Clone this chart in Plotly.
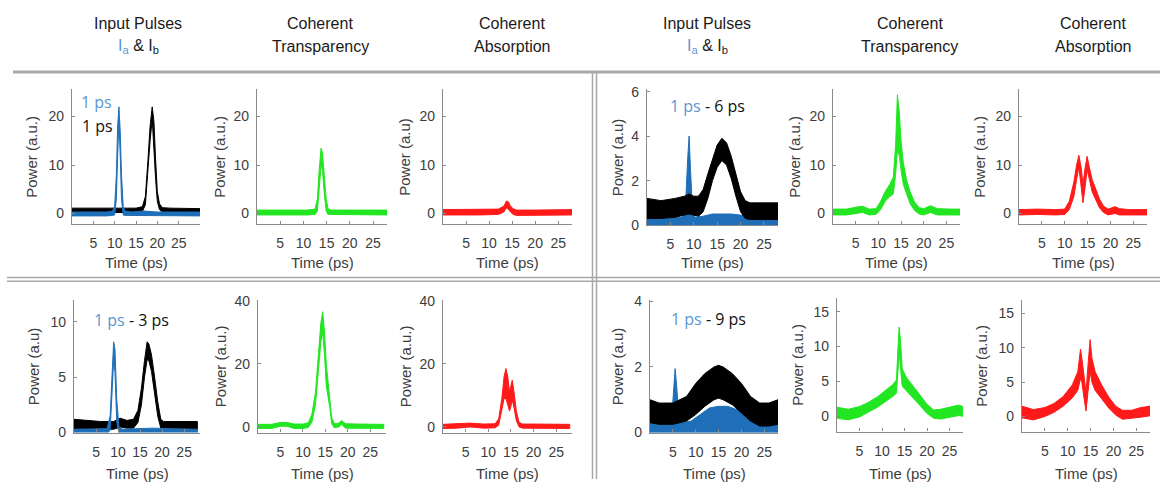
import plotly.graph_objects as go

W, H = 1166, 490

BLUE = "#1f6fb8"
BLACK = "#000000"
GREEN = "#22e622"
RED = "#ff1a1a"
LEG_BLUE = "#5b96d2"

# ---------------- data (time in ps, power in a.u.; lower / upper envelope of noisy traces) ----
# Row 1 - input pulses 1 ps & 1 ps
t_r1_in_blue = [0, 3, 6, 8, 9.5, 10.0, 10.4, 10.7, 11.0, 11.3, 11.6, 12.0, 12.4, 14, 17, 20, 24, 28, 30]
lo_r1_in_blue = [-0.5, -0.5, -0.5, -0.5, -0.4, -0.3, 3, 12, 19, 12, 3, -0.3, -0.4, -0.5, -0.4, -0.5, -0.5, -0.5, -0.5]
hi_r1_in_blue = [0.3, 0.3, 0.3, 0.3, 0.5, 1.5, 8, 18, 22, 17, 8, 1.5, 0.5, 0.3, 0.5, 0.3, 0.3, 0.3, 0.3]
t_r1_in_black = [0, 3, 6, 9, 12, 15, 16.5, 17.2, 17.8, 18.3, 18.8, 19.2, 19.6, 20.0, 20.5, 21.2, 23, 26, 28, 30]
lo_r1_in_black = [0.2, 0.2, 0.2, 0.2, 0.2, 0.2, 0.4, 1.8, 8, 15, 19.5, 15, 7, 2.5, 0.8, 0.3, 0.2, 0.2, 0.2, 0.2]
hi_r1_in_black = [1.1, 1.1, 1.0, 1.1, 1.1, 1.1, 1.4, 3.5, 11, 18, 22, 19, 11, 4.5, 2, 1.2, 1.1, 1.1, 1.1, 1.0]
# Row 1 - coherent transparency / absorption (1 ps)
t_r1_ct = [0, 4, 8, 11, 12.5, 13.0, 13.4, 13.8, 14.1, 14.5, 14.9, 15.3, 16, 20, 24, 28]
lo_r1_ct = [-0.3, -0.3, -0.3, -0.3, -0.2, 0.5, 5, 10, 9, 4, 0.5, -0.2, -0.3, -0.3, -0.3, -0.3]
hi_r1_ct = [0.7, 0.7, 0.7, 0.7, 0.9, 3, 9, 13.5, 12.5, 8, 3, 1.0, 0.7, 0.7, 0.7, 0.7]
t_r1_ca = [0, 4, 8, 12, 13.2, 13.8, 14.2, 14.6, 15.2, 16, 20, 24, 28]
lo_r1_ca = [-0.3, -0.3, -0.3, -0.2, 0.3, 1.2, 1.0, 0.4, -0.2, -0.4, -0.4, -0.3, -0.3]
hi_r1_ca = [0.8, 0.8, 0.8, 0.9, 1.5, 2.6, 2.4, 1.6, 1.0, 0.7, 0.7, 0.8, 0.8]

# Row 1 right - input pulses 1 ps & 6 ps
t_r1_in6_blue = [0, 4, 7.5, 8.3, 8.7, 9.0, 9.3, 9.7, 10.2, 12, 14, 16, 18, 20, 22, 24, 28]
lo_r1_in6_blue = [0, 0, 0, 0, 0, 0, 0, 0, 0, 0, 0, 0, 0, 0, 0, 0, 0]
hi_r1_in6_blue = [0.3, 0.3, 0.35, 1.2, 3, 4.0, 2.5, 0.8, 0.35, 0.4, 0.5, 0.5, 0.5, 0.45, 0.35, 0.3, 0.3]
t_r1_in6_black = [0, 3, 6, 8, 9, 10, 11, 12, 13, 14, 15, 16, 17, 18, 19, 20, 21, 22, 24, 28]
lo_r1_in6_black = [0.3, 0.3, 0.35, 0.45, 0.5, 0.45, 0.4, 0.6, 1.2, 2.0, 2.6, 2.9, 2.7, 2.1, 1.3, 0.6, 0.3, 0.25, 0.25, 0.25]
hi_r1_in6_black = [1.2, 1.1, 1.2, 1.3, 1.4, 1.3, 1.3, 1.6, 2.3, 3.0, 3.6, 3.9, 3.7, 3.1, 2.3, 1.5, 1.1, 1.0, 1.0, 1.0]
t_r1_ct6 = [0, 3, 5, 6.5, 8, 9.5, 10.5, 11.5, 12.5, 13.3, 13.8, 14.2, 14.6, 15.0, 15.5, 16.2, 17, 18, 19, 20, 21.5, 23, 26, 28]
lo_r1_ct6 = [-0.3, -0.3, 0.0, 0.2, -0.3, -0.2, 0.8, 2.5, 3.5, 4.0, 8, 13, 12, 9, 6, 4, 2, 0.6, -0.1, -0.3, 0.2, -0.3, -0.3, -0.3]
hi_r1_ct6 = [0.9, 0.9, 1.3, 1.5, 0.9, 1.0, 2.5, 4.5, 6.0, 7.5, 14, 24.5, 21, 15, 10.5, 7, 4.5, 2.3, 1.2, 1.0, 1.6, 1.0, 0.9, 0.9]
t_r1_ca6 = [0, 4, 8, 10, 11, 12, 12.6, 13.1, 13.6, 14.0, 14.4, 14.9, 15.4, 16, 16.8, 17.6, 18.5, 19.5, 21, 22, 24, 28]
lo_r1_ca6 = [-0.3, -0.2, -0.3, -0.2, 0.8, 3.5, 7, 9.5, 5.5, 2.2, 5, 9, 7, 4.5, 2.8, 1.2, 0.2, -0.3, 0, -0.3, -0.3, -0.3]
hi_r1_ca6 = [0.8, 0.9, 0.8, 0.9, 2.5, 6.5, 10, 12, 9.5, 6, 9, 11.8, 9.5, 7, 5, 3, 1.5, 0.9, 1.4, 1.0, 0.8, 0.8]

# Row 2 left - input pulses 1 ps & 3 ps
t_r2_in3_blue = [0, 4, 7.5, 8.2, 8.6, 9.0, 9.3, 9.7, 10.2, 11, 14, 18, 22, 26, 28]
lo_r2_in3_blue = [-0.1, -0.1, -0.1, 0.2, 3, 6.5, 5.5, 1, -0.1, -0.1, -0.1, -0.1, -0.1, -0.1, -0.1]
hi_r2_in3_blue = [0.3, 0.3, 0.35, 1.5, 5.5, 8.2, 7.5, 3, 0.5, 0.3, 0.35, 0.4, 0.35, 0.3, 0.3]
t_r2_in3_black = [0, 3, 6, 9, 10.5, 12, 13.5, 14.5, 15.3, 16.0, 16.6, 17.0, 17.6, 18.3, 19.0, 19.7, 20.3, 22, 25, 28]
lo_r2_in3_black = [0.3, 0.3, 0.3, 0.3, 0.5, 0.4, 0.4, 0.9, 2.5, 5.0, 6.6, 6.5, 5.5, 3.5, 1.5, 0.4, 0.25, 0.25, 0.25, 0.25]
hi_r2_in3_black = [1.2, 1.1, 1.0, 1.0, 1.3, 1.1, 1.2, 2.0, 4.0, 6.5, 8.2, 8.0, 7.0, 5.0, 2.8, 1.2, 1.0, 1.0, 1.0, 1.0]
t_r2_ct3 = [0, 3, 5, 6.5, 8, 10, 11.2, 12, 12.8, 13.4, 14.0, 14.4, 14.8, 15.2, 15.6, 16.0, 16.4, 17, 18, 18.6, 19.5, 22, 25, 28]
lo_r2_ct3 = [-0.5, -0.5, 0.2, 0.2, -0.5, -0.5, -0.2, 1.5, 7, 16, 27, 30, 23, 13, 10, 6, 1, -0.3, 0, 0.8, -0.4, -0.5, -0.5, -0.5]
hi_r2_ct3 = [0.8, 0.8, 1.4, 1.4, 0.9, 0.9, 1.3, 4, 11, 22, 33, 36.5, 30, 20, 15, 10, 3, 1.0, 1.2, 2, 1.0, 0.9, 0.8, 0.8]
t_r2_ca3 = [0, 3, 6, 9, 11.5, 12.3, 13.0, 13.5, 13.9, 14.3, 14.7, 15.0, 15.3, 15.7, 16.2, 16.8, 17.5, 20, 24, 28]
lo_r2_ca3 = [-0.5, -0.4, 0, -0.4, -0.3, 0.5, 5, 9, 9, 7, 5, 6.5, 8.5, 6, 2, 0, -0.4, -0.4, -0.5, -0.5]
hi_r2_ca3 = [0.8, 0.9, 1.2, 0.9, 1.0, 2.5, 9, 16, 18.5, 16, 11, 13, 14.8, 11, 5, 1.5, 0.9, 0.9, 0.8, 0.8]

# Row 2 right - input pulses 1 ps & 9 ps
t_r2_in9_blue = [0, 3, 4.7, 5.1, 5.5, 5.9, 6.3, 7, 9, 11, 13, 15, 17, 19, 21, 23, 25, 28]
lo_r2_in9_blue = [0, 0, 0, 0, 0, 0, 0, 0, 0, 0, 0, 0, 0, 0, 0, 0, 0, 0]
hi_r2_in9_blue = [0.3, 0.3, 0.35, 1.2, 1.95, 1.3, 0.45, 0.3, 0.35, 0.55, 0.75, 0.8, 0.8, 0.7, 0.5, 0.35, 0.3, 0.3]
t_r2_in9_black = [0, 2, 5, 8, 10, 12, 14, 15, 16, 18, 20, 22, 24, 26, 28]
lo_r2_in9_black = [0.3, 0.25, 0.25, 0.35, 0.55, 0.8, 1.0, 1.05, 1.0, 0.85, 0.6, 0.35, 0.2, 0.2, 0.25]
hi_r2_in9_black = [1.0, 0.9, 0.9, 1.1, 1.5, 1.8, 2.0, 2.05, 2.0, 1.8, 1.5, 1.1, 0.9, 0.9, 1.0]
t_r2_ct9 = [0, 2.5, 5, 7, 9, 11, 12.5, 13.2, 13.5, 13.8, 14.1, 14.5, 15.5, 17, 18.5, 20, 21.5, 23, 25, 27, 28]
lo_r2_ct9 = [-0.3, -0.5, -0.1, 0.6, 1.3, 2.2, 2.9, 3.3, 6, 9, 7, 4.3, 3.6, 2.6, 1.5, 0.4, -0.3, -0.4, -0.2, 0.1, 0]
hi_r2_ct9 = [1.3, 1.0, 1.4, 2.0, 2.8, 3.8, 4.6, 5.2, 10, 12.8, 11, 6.8, 5.5, 4.3, 3.0, 1.7, 0.9, 1.0, 1.3, 1.6, 1.4]
t_r2_ca9 = [0, 2.5, 5, 7, 9, 11, 12.2, 12.8, 13.1, 13.5, 14.0, 14.5, 14.9, 15.3, 16, 17.5, 19, 20.5, 22, 24, 26, 28]
lo_r2_ca9 = [-0.2, -0.5, 0, 0.6, 1.5, 2.7, 3.8, 5.5, 5, 3, 0.8, 4, 6.5, 5, 3.8, 2.5, 1.2, 0.2, -0.4, -0.3, -0.1, 0.1]
hi_r2_ca9 = [1.5, 1.0, 1.3, 1.9, 2.9, 4.6, 6.5, 9.8, 8.5, 6, 3.5, 8, 11.2, 8.5, 6.5, 4.5, 2.8, 1.5, 0.9, 0.9, 1.3, 1.5]

x_ticks = [5, 10, 15, 20, 25]

# ---------------- panels: pixel box (x0, x1, ytop, ybot), ranges, y ticks, label ------------
panels = [
    dict(box=(72, 200, 85, 224), xr=[0, 30], yr=[-2.2, 25.6], yt=[0, 10, 20], lab="Power (a.u.)", off=40,
         tr=[(t_r1_in_black, lo_r1_in_black, hi_r1_in_black, BLACK), (t_r1_in_blue, lo_r1_in_blue, hi_r1_in_blue, BLUE)]),
    dict(box=(257, 387, 85, 224), xr=[0, 28], yr=[-2.2, 25.6], yt=[0, 10, 20], lab="Power (a.u.)", off=37,
         tr=[(t_r1_ct, lo_r1_ct, hi_r1_ct, GREEN)]),
    dict(box=(443, 572, 85, 224), xr=[0, 28], yr=[-2.2, 25.6], yt=[0, 10, 20], lab="Power (a.u)", off=38,
         tr=[(t_r1_ca, lo_r1_ca, hi_r1_ca, RED)]),
    dict(box=(647, 778, 85, 225), xr=[0, 28], yr=[0, 6.1], yt=[0, 2, 4, 6], lab="Power (a.u)", off=30,
         tr=[(t_r1_in6_blue, lo_r1_in6_blue, hi_r1_in6_blue, BLUE), (t_r1_in6_black, lo_r1_in6_black, hi_r1_in6_black, BLACK)]),
    dict(box=(833, 960, 85, 224), xr=[0, 28], yr=[-2.2, 25.6], yt=[0, 10, 20], lab="Power (a.u.)", off=38,
         tr=[(t_r1_ct6, lo_r1_ct6, hi_r1_ct6, GREEN)]),
    dict(box=(1019, 1147, 85, 224), xr=[0, 28], yr=[-2.2, 25.6], yt=[0, 10, 20], lab="Power (a.u.)", off=39,
         tr=[(t_r1_ca6, lo_r1_ca6, hi_r1_ca6, RED)]),
    dict(box=(74, 200, 302, 439), xr=[0, 28.6], yr=[0, 12], yt=[0, 5, 10], lab="Power (a.u)", off=41,
         tr=[(t_r2_in3_black, lo_r2_in3_black, hi_r2_in3_black, BLACK), (t_r2_in3_blue, lo_r2_in3_blue, hi_r2_in3_blue, BLUE)]),
    dict(box=(258, 386, 302, 439), xr=[0, 28.5], yr=[-1.8, 40.3], yt=[0, 20, 40], lab="Power (a.u.)", off=38,
         tr=[(t_r2_ct3, lo_r2_ct3, hi_r2_ct3, GREEN)]),
    dict(box=(443, 572, 302, 439), xr=[0, 28.5], yr=[-1.8, 40.3], yt=[0, 20, 40], lab="Power (a.u.)", off=38,
         tr=[(t_r2_ca3, lo_r2_ca3, hi_r2_ca3, RED)]),
    dict(box=(650, 778, 302, 439), xr=[0, 28], yr=[0, 4.05], yt=[0, 2, 4], lab="Power (a.u)", off=33,
         tr=[(t_r2_in9_blue, lo_r2_in9_blue, hi_r2_in9_blue, BLUE), (t_r2_in9_black, lo_r2_in9_black, hi_r2_in9_black, BLACK)]),
    dict(box=(837, 963, 300, 438), xr=[0, 28], yr=[-2.2, 17], yt=[0, 5, 10, 15], lab="Power (a.u.)", off=39,
         tr=[(t_r2_ct9, lo_r2_ct9, hi_r2_ct9, GREEN)]),
    dict(box=(1022, 1150, 302, 438), xr=[0, 28], yr=[-2.2, 17], yt=[0, 5, 10, 15], lab="Power (a.u.)", off=40,
         tr=[(t_r2_ca9, lo_r2_ca9, hi_r2_ca9, RED)]),
]

TICK_FONT = dict(family="Liberation Sans, Arial, sans-serif", size=14, color="#3d3d3d")
AX_COL = "#8a8a8a"


def px(x):
    return x / W


def py(y):
    return 1 - y / H


fig = go.Figure()
layout = dict(width=W, height=H, autosize=False, margin=dict(l=0, r=0, t=0, b=0, pad=0),
              paper_bgcolor="white", plot_bgcolor="rgba(0,0,0,0)", showlegend=False)
annotations = []
shapes = []

for i, p in enumerate(panels, start=1):
    sfx = "" if i == 1 else str(i)
    x0, x1, yt, yb = p["box"]
    for t, lo, hi, col in p["tr"]:
        fig.add_trace(go.Scatter(
            x=list(t) + list(t)[::-1], y=list(hi) + list(lo)[::-1],
            fill="toself", fillcolor=col, mode="lines",
            line=dict(color=col, width=1), hoverinfo="skip",
            xaxis="x" + sfx, yaxis="y" + sfx))
    layout["xaxis" + sfx] = dict(
        domain=[px(x0), px(x1)], range=p["xr"], anchor="y" + sfx,
        tickvals=x_ticks, showline=True, linecolor=AX_COL, linewidth=1.3,
        ticks="inside", ticklen=3, tickcolor=AX_COL, showgrid=False, zeroline=False,
        tickfont=TICK_FONT, ticklabelstandoff=6, fixedrange=True)
    layout["yaxis" + sfx] = dict(
        domain=[py(yb), py(yt)], range=p["yr"], anchor="x" + sfx,
        tickvals=p["yt"], showline=True, linecolor=AX_COL, linewidth=1.3,
        ticks="inside", ticklen=3, tickcolor=AX_COL, showgrid=False, zeroline=False,
        tickfont=TICK_FONT, ticklabelstandoff=4, fixedrange=True)
    # y title
    annotations.append(dict(x=px(x0 - p["off"]), y=py((yt + yb) / 2), xref="paper", yref="paper",
                            text=p["lab"], textangle=-90, showarrow=False,
                            xanchor="center", yanchor="middle",
                            font=dict(family="Liberation Sans, Arial, sans-serif", size=15, color="#3d3d3d")))
    # x title
    annotations.append(dict(x=px((x0 + x1) / 2), y=py(264 if yb < 250 else 481), xref="paper", yref="paper",
                            text="Time (ps)", showarrow=False, xanchor="center", yanchor="middle",
                            font=dict(family="Liberation Sans, Arial, sans-serif", size=15, color="#3d3d3d")))

# column headers
HEAD_FONT = dict(family="Liberation Sans Narrow, Liberation Sans, Arial, sans-serif", size=16, color="#1a1a1a")
ia_ib = "<span style='color:%s'>I<sub>a</sub></span> &amp; I<sub>b</sub>" % LEG_BLUE
headers = [
    (138, "Input Pulses", ia_ib), (320, "Coherent", "Transparency"), (512, "Coherent", "Absorption"),
    (707, "Input Pulses", ia_ib), (910, "Coherent", "Transparency"), (1093, "Coherent", "Absorption"),
]
for cx, l1, l2 in headers:
    annotations.append(dict(x=px(cx), y=py(17), xref="paper", yref="paper", text=l1, showarrow=False,
                            xanchor="center", yanchor="middle", font=HEAD_FONT))
    annotations.append(dict(x=px(cx), y=py(41), xref="paper", yref="paper", text=l2, showarrow=False,
                            xanchor="center", yanchor="middle", font=HEAD_FONT))

# in-panel pulse-width labels
LEG_FONT = dict(family="Open Sans, Noto Sans, sans-serif", size=16, color="#111111")
legends = [
    (79, 98, "<span style='color:%s'>1 ps</span>" % LEG_BLUE),
    (80, 123, "1 ps"),
    (668, 102, "<span style='color:%s'>1 ps</span> - 6 ps" % LEG_BLUE),
    (92, 323, "<span style='color:%s'>1 ps</span> - 3 ps" % LEG_BLUE),
    (669, 322, "<span style='color:%s'>1 ps</span> - 9 ps" % LEG_BLUE),
]
for lx, ly, txt in legends:
    annotations.append(dict(x=px(lx), y=py(ly), xref="paper", yref="paper", text=txt, showarrow=False,
                            xanchor="left", yanchor="middle", font=LEG_FONT))

# separators
SEP = "#a8a8a8"
shapes.append(dict(type="line", xref="paper", yref="paper", x0=px(13), x1=px(1160), y0=py(67), y1=py(67),
                   line=dict(color=SEP, width=3)))
for xx in (592.5, 596.5):
    shapes.append(dict(type="line", xref="paper", yref="paper", x0=px(xx), x1=px(xx), y0=py(67), y1=py(487),
                       line=dict(color=SEP, width=1.5)))
for yy in (279, 283):
    shapes.append(dict(type="line", xref="paper", yref="paper", x0=px(7), x1=px(1160), y0=py(yy), y1=py(yy),
                       line=dict(color=SEP, width=1.5)))

layout["annotations"] = annotations
layout["shapes"] = shapes
fig.update_layout(**layout)
fig.write_html("out.html", config={"displayModeBar": False},
               post_script="document.body.style.margin='0';document.body.style.padding='0';"
                           "document.body.style.overflow='hidden';"
                           "document.documentElement.style.overflow='hidden';")
